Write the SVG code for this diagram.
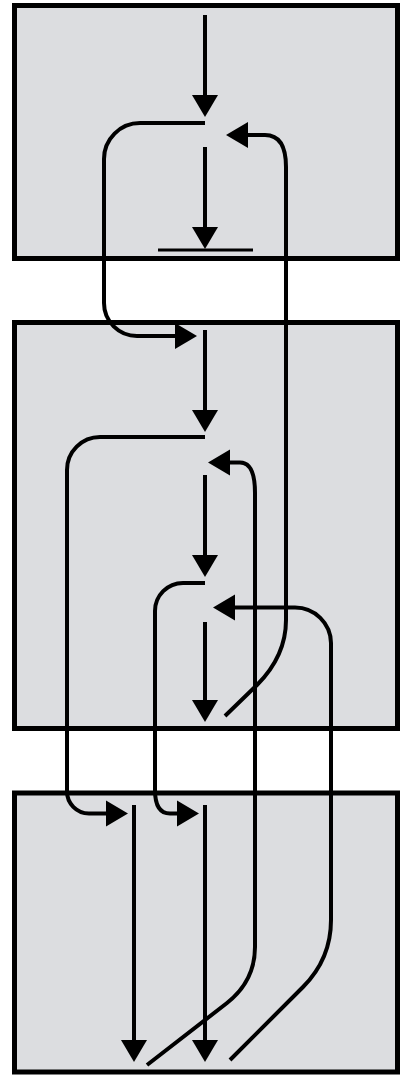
<svg xmlns="http://www.w3.org/2000/svg" width="401" height="1076" viewBox="0 0 401 1076">
<style>
.box{fill:#dcdde0;stroke:#000;stroke-width:5}
.ln{fill:none;stroke:#000;stroke-width:4}
.arr{marker-end:url(#ah)}
.bar{stroke:#000;stroke-width:3}
</style>
<defs>
<marker id="ah" markerUnits="userSpaceOnUse" markerWidth="24" markerHeight="28" refX="0" refY="13" orient="auto" overflow="visible">
<path d="M0,0 L22,13 L0,26 Z" fill="#000"/>
</marker>
</defs>
<rect width="401" height="1076" fill="#fff"/>
<g id="node-top"><rect class="box" x="14.5" y="5.5" width="383" height="253"/></g>
<g id="node-middle"><rect class="box" x="14.5" y="322.5" width="383" height="406"/></g>
<g id="node-bottom"><rect class="box" x="14.5" y="793" width="383" height="279"/></g>
<g id="connectors">
<path class="ln arr" d="M205,15 V95"/>
<path class="ln arr" d="M205,147 V227"/>
<line class="bar" x1="158" y1="250" x2="253" y2="250"/>
<path class="ln arr" d="M205,123 H140 A36,36 0 0 0 104,159 V303 A33,33 0 0 0 137,336 H175"/>
<path class="ln arr" d="M225,716 L257,685 Q286,656 286,620 V167 C286,147 280,135 265,135 H248"/>
<path class="ln arr" d="M205,330 V410"/>
<path class="ln arr" d="M205,437 H100 A33,33 0 0 0 67,470 V791 A22,22 0 0 0 89,813.5 H106"/>
<path class="ln arr" d="M205,475 V555"/>
<path class="ln arr" d="M205,583 H183 A28,28 0 0 0 155,611 V790 C155,806 160,813.5 170,813.5 H177"/>
<path class="ln arr" d="M147,1065 L227,1003 Q255,981 255,947 V493 C255,472 250,462.5 240,462.5 H230"/>
<path class="ln arr" d="M230,1060 L303,987 Q331,959 331,920 V643 A36,36 0 0 0 295,607.5 H235"/>
<path class="ln arr" d="M205,622 V700"/>
<path class="ln arr" d="M134,805 V1040"/>
<path class="ln arr" d="M205,805 V1040"/>
</g>
</svg>
